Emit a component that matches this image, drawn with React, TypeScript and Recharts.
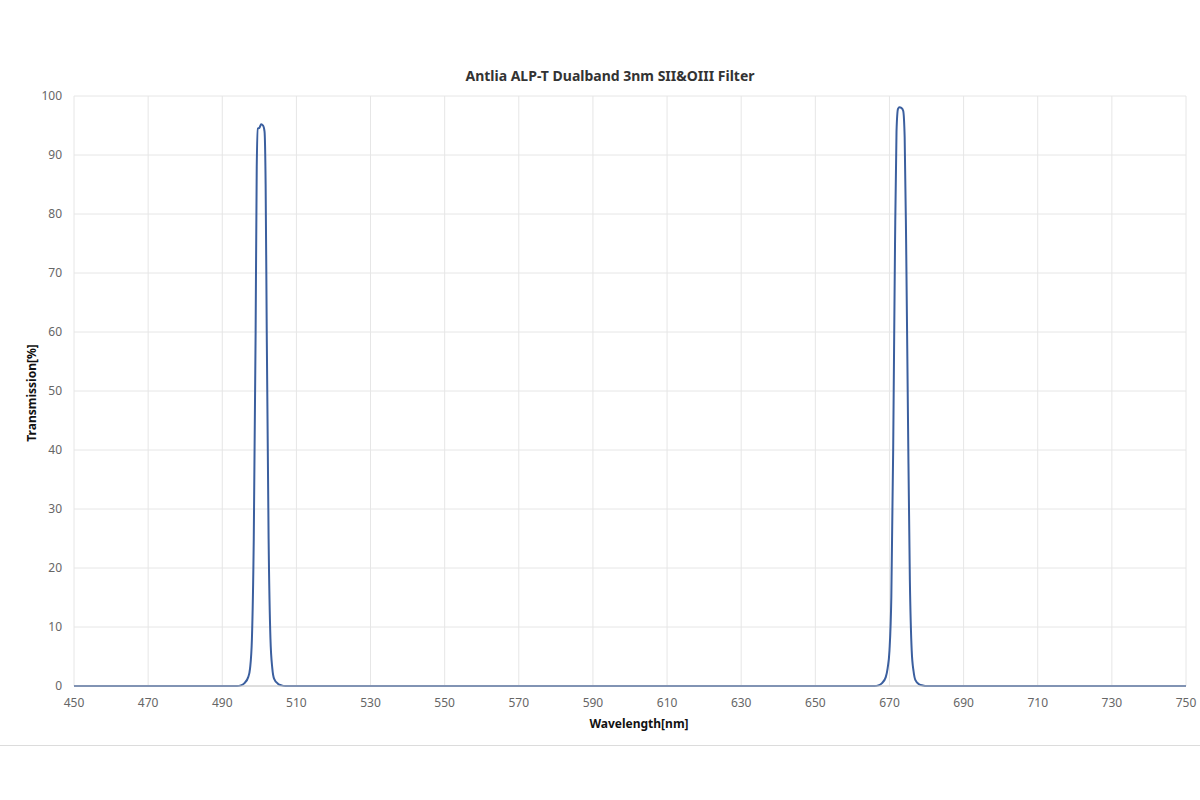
import React from "react";
import { LineChart, Line, CartesianGrid, XAxis, YAxis } from "recharts";

// Transmission curve of the two passbands
const wavelengths = [
  450, 494, 495, 496, 497, 497.5, 498, 498.5, 499, 499.3, 499.6, 500, 500.5, 501, 501.4, 501.7, 502,
  502.5, 503, 503.5, 504, 505, 506, 507,
  666, 667, 668, 669, 669.5, 670, 670.5, 671, 671.5, 671.9, 672.3, 672.7, 673.2, 673.7, 674.1, 674.5,
  675, 675.5, 676, 676.5, 677, 678, 679, 680, 750,
];
const transmission = [
  0, 0, 0.1, 0.5, 1.5, 3, 8, 25, 60, 88, 94.5, 94.6, 95.2, 95.0, 94, 85, 60,
  25, 8, 3, 1.2, 0.4, 0.1, 0,
  0, 0.1, 0.5, 1.5, 3, 6, 15, 40, 75, 94, 97.8, 98.1, 98, 97.5, 93, 75,
  45, 18, 6, 2.5, 1, 0.3, 0.1, 0, 0,
];
const xTicks = [450, 470, 490, 510, 530, 550, 570, 590, 610, 630, 650, 670, 690, 710, 730, 750];
const yTicks = [0, 10, 20, 30, 40, 50, 60, 70, 80, 90, 100];

const data = wavelengths.map((w, i) => ({ w, t: transmission[i] }));

const font = "'Noto Sans', 'Open Sans', sans-serif";

export default function App() {
  return (
    <div style={{ position: "absolute", left: 0, top: 0, width: 1200, height: 800, background: "#fff", fontFamily: font }}>
      <div style={{ position: "absolute", top: 66, left: 10, width: 1200, textAlign: "center", fontSize: 14, fontWeight: 700, color: "#333" }}>
        Antlia ALP-T Dualband 3nm SII&amp;OIII Filter
      </div>
      <LineChart width={1200} height={800} data={data} margin={{ top: 96, right: 14, bottom: 84, left: 30 }}>
        <CartesianGrid stroke="#e6e6e6" verticalValues={xTicks} horizontalValues={yTicks} />
        <XAxis
          dataKey="w"
          type="number"
          domain={[450, 750]}
          ticks={xTicks}
          interval={0}
          height={30}
          tickLine={false}
          axisLine={{ stroke: "#c8c8c8" }}
          tickMargin={6}
          tick={{ fill: "#666", fontSize: 12, fontFamily: font }}
        />
        <YAxis
          type="number"
          domain={[0, 100]}
          ticks={yTicks}
          interval={0}
          width={44}
          tickLine={false}
          axisLine={false}
          tickMargin={6}
          tick={{ fill: "#666", fontSize: 12, fontFamily: font }}
        />
        <Line
          dataKey="t"
          type="monotone"
          stroke="#3b5f9f"
          strokeWidth={2}
          dot={false}
          isAnimationActive={false}
        />
      </LineChart>
      <div style={{ position: "absolute", top: 715, left: 39, width: 1200, textAlign: "center", fontSize: 12, fontWeight: 700, color: "#111" }}>
        Wavelength[nm]
      </div>
      <div
        style={{
          position: "absolute",
          left: 31,
          top: 393,
          transform: "translate(-50%, -50%) rotate(-90deg)",
          fontSize: 12,
          fontWeight: 700,
          color: "#111",
          whiteSpace: "nowrap",
        }}
      >
        Transmission[%]
      </div>
      <div style={{ position: "absolute", left: 0, top: 745, width: 1200, height: 1, background: "#dcdcdc" }} />
    </div>
  );
}
